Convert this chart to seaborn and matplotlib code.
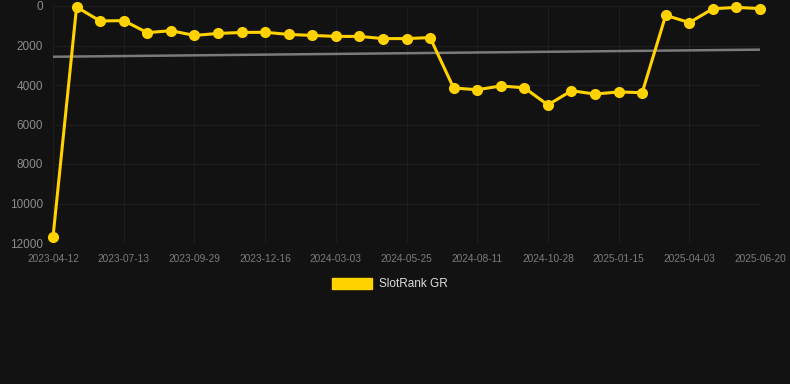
import numpy as np
import pandas as pd
import matplotlib
matplotlib.use("Agg")
import matplotlib.pyplot as plt
import matplotlib.patches as mpatches
import seaborn as sns

# dates of each point (only every third one is labelled on the axis)
dates = ["2023-04-12", "2023-05-13", "2023-06-13", "2023-07-13", "2023-08-08", "2023-09-03",
         "2023-09-29", "2023-10-25", "2023-11-20", "2023-12-16", "2024-01-11", "2024-02-06",
         "2024-03-03", "2024-03-31", "2024-04-28", "2024-05-25", "2024-06-20", "2024-07-16",
         "2024-08-11", "2024-09-06", "2024-10-02", "2024-10-28", "2024-11-23", "2024-12-20",
         "2025-01-15", "2025-02-10", "2025-03-08", "2025-04-03", "2025-04-29", "2025-05-25",
         "2025-06-20"]
rank = [11700, 50, 760, 740, 1350, 1250, 1490, 1390, 1340, 1330, 1440, 1490,
        1540, 1540, 1650, 1650, 1600, 4150, 4240, 4050, 4140, 5010, 4290, 4460,
        4350, 4390, 470, 840, 140, 70, 130]
trend_ends = [2570, 2210]
y_ticks = [0, 2000, 4000, 6000, 8000, 10000, 12000]

bg = "#121212"
gold = "#FFD200"

df = pd.DataFrame({"idx": np.arange(len(dates)), "date": dates, "rank": rank})
trend = pd.DataFrame({"idx": [0, len(dates) - 1], "rank": trend_ends})

sns.set_theme(style="dark")
plt.rcParams["font.family"] = ["Liberation Sans", "DejaVu Sans"]

fig = plt.figure(figsize=(7.9, 3.84), dpi=100, facecolor=bg)
ax = fig.add_axes([53 / 790, 1 - 243 / 384, (760 - 53) / 790, (243 - 6) / 384])
ax.set_facecolor(bg)

sns.lineplot(data=trend, x="idx", y="rank", ax=ax, color="#7a7a7a", linewidth=1.8)
sns.lineplot(data=df, x="idx", y="rank", ax=ax, color=gold, linewidth=2.2,
             marker="o", markersize=8, markeredgewidth=0, clip_on=False)

ax.set_xlim(0, len(dates) - 1)
ax.set_ylim(12000, 0)
ax.set_xticks(df["idx"][::3])
ax.set_xticklabels(df["date"][::3], fontsize=7.3, color="#7c7c7c")
ax.set_yticks(y_ticks)
ax.set_yticklabels([str(v) for v in y_ticks], fontsize=8.5, color="#8c8c8c")
ax.tick_params(axis="x", length=0, pad=8)
ax.tick_params(axis="y", length=0, pad=7)
ax.grid(True, color="#1e1e1e", linewidth=0.8)
ax.set_xlabel("")
ax.set_ylabel("")
for s in ax.spines.values():
    s.set_visible(False)

handle = mpatches.Patch(color=gold, label="SlotRank GR")
fig.legend(handles=[handle], loc="center", bbox_to_anchor=(390 / 790, 1 - 284 / 384),
           frameon=False, fontsize=8.5, labelcolor="#dddddd",
           handlelength=3.4, handleheight=1.1, handletextpad=0.55)

fig.savefig("out.png", dpi=100, facecolor=bg)
